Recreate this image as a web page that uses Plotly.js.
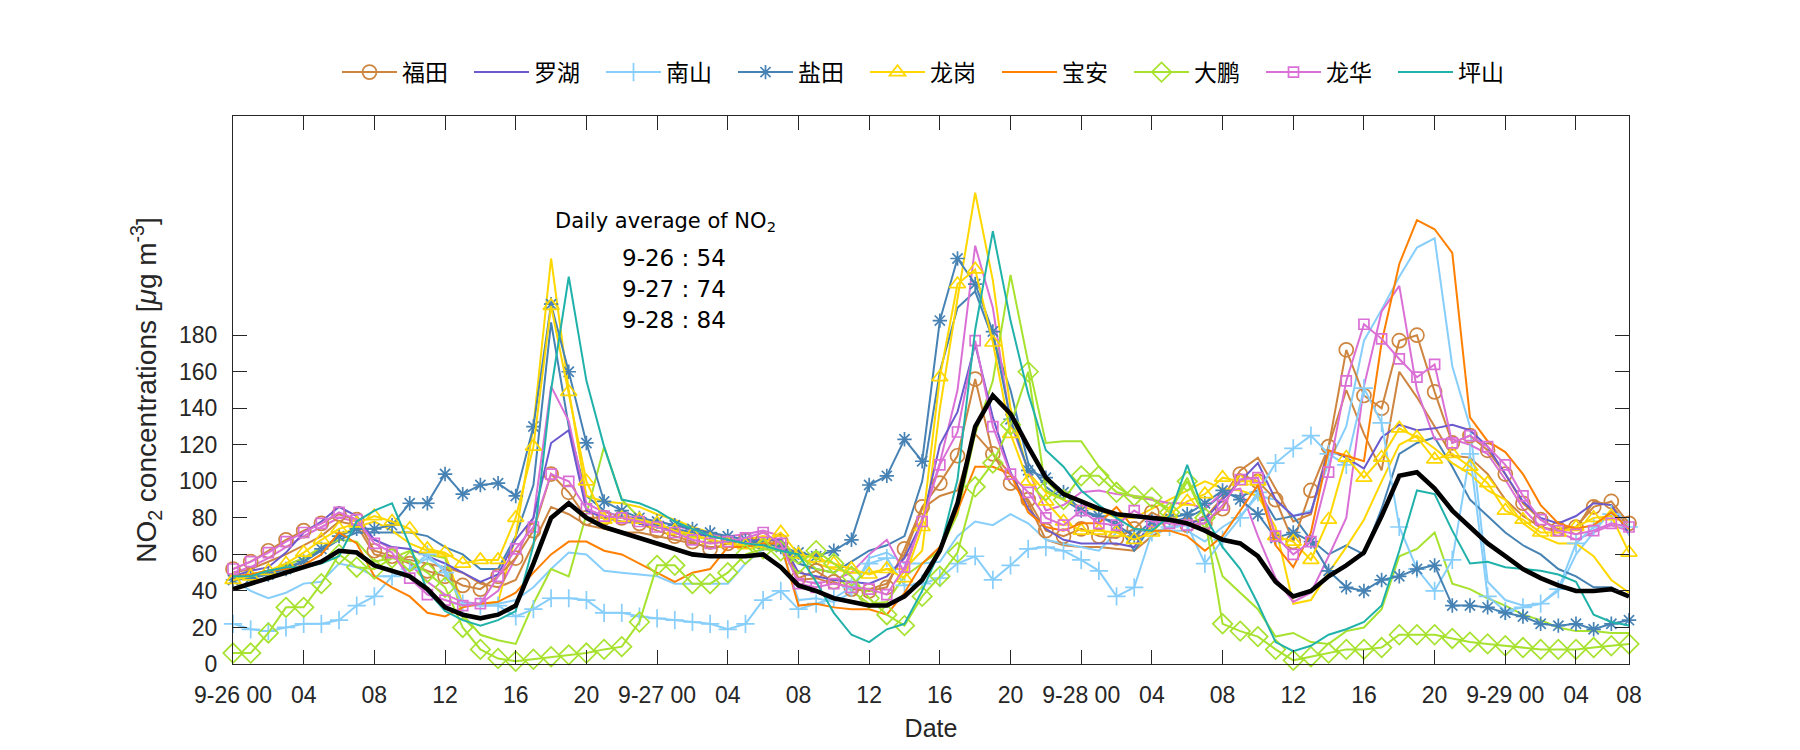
<!DOCTYPE html>
<html>
<head>
<meta charset="utf-8">
<script src="https://cdn.plot.ly/plotly-3.0.1.min.js"></script>
<style>html,body{margin:0;padding:0;background:#fff;}#chart{width:1800px;height:750px;}</style>
</head>
<body>
<div id="chart"></div>
<script>
// Hourly index from 9-26 00 (0) to 9-29 07 (79)
const hours = [];
for (let i = 0; i < 80; i++) hours.push(i);

const tickVals = [0,4,8,12,16,20,24,28,32,36,40,44,48,52,56,60,64,68,72,76,79];
const tickText = ["9-26 00","04","08","12","16","20","9-27 00","04","08","12","16","20","9-28 00","04","08","12","16","20","9-29 00","04","08"];
const yTickVals = [0,20,40,60,80,100,120,140,160,180];

const names = ["福田","罗湖","南山","盐田","龙岗","宝安","大鹏","龙华","坪山"];

// marker series (stations shown in legend)
const futian = [52,56,62,68,73,77,82,79,62,59, 55,51,48,43,41,48,58,73,104,94, 80,80,80,77,73,70,67,63,66,68, 68,67,47,51,45,41,40,42,63,86, 99,114,156,115,99,90,73,70,74,70, 69,74,83,78,76,77,85,104,100,90, 67,95,119,172,147,140,177,180,149,121, 125,117,104,88,79,74,75,86,89,77];
const luohu = [48,51,53,61,72,78,86,81,68,64, 63,59,55,50,45,49,68,80,121,128, 84,80,78,77,75,73,71,70,68,67, 68,68,50,48,46,45,44,48,58,78, 120,138,175,135,105,85,74,68,66,66, 66,64,78,79,77,79,90,100,110,90, 81,83,117,113,107,124,131,128,129,131, 128,119,104,89,80,77,81,88,87,71];
const nanshan = [22,19,18,20,22,22,24,32,37,48, 52,60,50,33,32,32,26,30,36,36, 35,28,28,26,25,24,23,22,19,22, 35,40,30,33,36,42,55,58,43,44, 47,55,59,46,54,63,64,62,57,51, 37,42,72,75,76,55,68,80,94,110, 118,125,115,109,151,132,75,52,40,57, 115,37,29,31,33,41,66,75,82,75];
const yantian = [46,47,49,52,56,63,70,74,74,76, 88,88,104,93,98,99,92,130,197,160, 121,89,84,80,78,76,74,72,70,68, 66,64,61,59,62,68,98,103,123,111, 188,222,208,182,134,106,102,94,84,81, 76,70,78,80,82,88,95,90,82,69, 72,67,51,42,40,46,48,52,54,32, 32,31,28,26,22,21,22,19,22,24];
const longgang = [46,48,51,55,61,68,74,77,81,78, 74,63,61,55,57,57,80,119,196,149, 100,79,80,79,77,73,71,68,66,65, 66,72,60,58,55,52,49,52,47,75, 157,208,216,176,126,100,89,78,73,73, 72,68,72,82,89,93,102,100,100,70, 67,57,79,113,102,113,129,124,112,115, 108,99,84,79,72,72,75,80,81,61];
const baoan = [48,49,51,52,54,60,72,66,48,42, 37,28,26,31,33,34,39,50,60,67, 67,62,60,55,50,45,50,52,64,64, 66,66,32,33,31,30,30,27,39,55, 64,84,108,108,104,83,75,73,77,77, 86,74,73,73,70,62,70,84,98,65, 53,72,117,114,111,176,219,243,238,225, 135,122,116,104,87,77,74,76,83,74];
const dapeng = [6,6,17,31,31,44,60,53,52,58, 56,50,42,20,8,3,1.5,2.6,4,5, 6,8,9.5,23,54,54,44,44,50,60, 63,62,55,62,55,48,36,27,21,37, 48,61,97,110,131,160,95,90,103,103, 94,92,91,83,100,80,22,18,15,8, 2,4,6,8,8,9,16,16,16,14, 12,11,10,9,8,8,8,9,10,11];
const longhua = [52,56,61,67,72,77,83,79,66,61, 47,38,35,32,33,48,63,75,104,100, 85,81,80,78,75,72,68,66,67,69, 72,66,44,42,44,42,41,38,53,78, 109,127,177,130,104,94,80,76,84,77, 76,84,78,77,76,77,87,101,102,70, 60,67,105,155,186,178,167,157,164,121, 125,119,109,92,79,73,71,73,77,75];
const pingshan = [48,48,51,53,53,55,59,78,84,88, 65,40,29,24,21,24,29,65,150,212, 155,119,90,88,84,78,74,70,68,66, 65,62,60,45,28,16,12,19,22,40, 62,101,183,237,188,148,117,108,95,87, 80,74,73,81,109,81,64,52,33,12, 7,10,16,19,23,32,62,95,93,73, 55,56,53,52,51,49,45,27,23,21];

// second stations (plain lines, not in legend)
const futian2 = [50,52,56,60,65,70,78,76,60,58, 57,55,53,50,44,42,46,66,86,82, 76,74,72,72,70,68,66,64,64,65, 66,65,46,47,44,42,41,44,60,85, 92,95,126,115,104,88,68,65,64,64, 63,62,70,75,77,80,91,106,113,96, 78,82,119,150,126,106,160,146,130,114, 113,104,90,81,75,73,74,89,87,75];
const nanshan2 = [46,40,36,39,44,45,55,53,48,48, 52,58,52,33,33,33,35,42,52,61, 60,51,50,49,48,44,44,44,44,55, 63,64,35,36,34,39,58,61,55,55, 56,70,78,76,82,77,68,66,64,62, 72,73,73,73,73,67,75,81,92,90, 81,84,110,130,177,194,212,228,233,163, 130,45,35,32,33,40,60,72,84,78];
const yantian2 = [46,48,50,53,56,62,68,72,72,72, 72,70,64,60,52,52,70,98,187,130, 92,84,80,78,76,74,72,70,68,67, 66,66,55,52,50,56,62,65,70,100, 160,195,204,178,150,110,97,90,84,80, 78,62,76,78,80,85,93,92,95,79, 81,68,60,65,60,85,115,121,124,108, 90,81,72,65,60,52,48,42,42,37];
const longgang2 = [47,49,51,54,58,63,70,75,78,73, 66,62,60,33,33,34,70,130,222,150, 92,89,88,86,82,79,75,72,68,68, 70,68,58,55,52,50,50,52,52,62, 140,200,258,210,140,105,94,90,86,84, 80,80,85,90,95,100,96,95,92,75, 33,35,50,64,79,100,120,125,118,110, 104,95,90,77,70,66,66,59,46,39];
const dapeng2 = [47,49,51,54,58,64,68,67,56,58, 62,60,58,27,16,13,11,33,52,48, 82,119,90,80,75,72,70,68,66,65, 63,62,60,52,50,40,33,34,48,55, 62,82,126,155,213,165,121,122,122,108, 97,91,90,85,102,80,48,39,30,15, 17,12,11,18,20,30,59,63,72,44, 41,36,32,27,24,20,18,18,17,17];
const longhua2 = [50,53,58,64,70,75,80,78,68,63, 55,45,38,34,33,40,58,80,152,133, 88,83,81,80,78,76,73,71,70,71, 73,70,46,44,46,50,60,68,50,80, 110,150,229,195,132,106,84,87,94,95, 93,92,90,88,88,85,94,96,70,47, 34,39,59,80,152,193,207,150,123,123, 120,115,101,85,75,72,68,72,76,73];

// city average (thick black)
const average = [41,44,47,50,53,56,62,61,54,51, 48,41,31,27,25,27,32,55,80,88, 80,75,72,69,66,63,60,59,59,59, 60,53,43,40,36,34,32,32,37,46, 62,88,130,147,137,119,102,93,89,85, 82,81,80,79,77,73,68,66,59,45, 37,40,48,54,61,81,103,105,96,84, 75,66,59,52,47,43,40,40,41,37];

const dailyAvgLabels = ["9-26 : 54","9-27 : 74","9-28 : 84"];

const colors = {
  futian:'#CD853F', luohu:'#6A5ACD', nanshan:'#87CEFA', yantian:'#4682B4',
  longgang:'#FFD700', baoan:'#FF8000', dapeng:'#A6E22E', longhua:'#DA70D6', pingshan:'#20B2AA'
};

function plain(y, color) {
  return {x: hours, y: y, type:'scatter', mode:'lines', showlegend:false, hoverinfo:'skip',
          line:{color:color, width:2}};
}
function series(name, y, color, symbol, size) {
  const t = {x: hours, y: y, name: name, type:'scatter', line:{color:color, width:2}, cliponaxis:false};
  if (symbol) {
    t.mode = 'lines+markers';
    t.marker = {symbol: symbol, size: size, color: color, line:{color:color, width:1.7}};
  } else {
    t.mode = 'lines';
  }
  return t;
}

const traces = [
  plain(futian2, colors.futian),
  plain(nanshan2, colors.nanshan),
  plain(yantian2, colors.yantian),
  plain(longgang2, colors.longgang),
  plain(dapeng2, colors.dapeng),
  plain(longhua2, colors.longhua),
  series(names[0], futian, colors.futian, 'circle-open', 14),
  series(names[1], luohu, colors.luohu, null),
  series(names[2], nanshan, colors.nanshan, 'cross-thin-open', 13),
  series(names[3], yantian, colors.yantian, 'asterisk-open', 12),
  series(names[4], longgang, colors.longgang, 'triangle-up-open', 14),
  series(names[5], baoan, colors.baoan, null),
  series(names[6], dapeng, colors.dapeng, 'diamond-open', 15),
  series(names[7], longhua, colors.longhua, 'square-open', 10),
  series(names[8], pingshan, colors.pingshan, null),
  {x: hours, y: average, type:'scatter', mode:'lines', showlegend:false, line:{color:'#000', width:4.6}}
];

const axisFont = {family:'Liberation Sans, Arial, sans-serif', size:23, color:'#262626'};
const xTitleFont = {family:'Liberation Sans, Arial, sans-serif', size:25, color:'#262626'};
const yTitleFont = {family:'Liberation Sans, Arial, sans-serif', size:28, color:'#262626'};
const ann1Font = {family:'DejaVu Sans, sans-serif', size:21, color:'#000'};
const annFont = {family:'DejaVu Sans, sans-serif', size:23, color:'#000'};

const annotations = [
  {xref:'paper', yref:'paper', x:0.310, y:0.807, text:'Daily average of NO<sub>2</sub>', showarrow:false, font:ann1Font, xanchor:'center', yanchor:'middle'}
];
const annY = [0.741, 0.684, 0.628];
dailyAvgLabels.forEach((t, i) => annotations.push(
  {xref:'paper', yref:'paper', x:0.316, y:annY[i], text:t, showarrow:false, font:annFont, xanchor:'center', yanchor:'middle'}
));

const layout = {
  width:1800, height:750,
  margin:{l:233, r:171, t:116, b:86},
  paper_bgcolor:'#fff', plot_bgcolor:'#fff',
  showlegend:true,
  legend:{orientation:'h', x:0.5, xanchor:'center', y:1.08, yanchor:'middle',
          font:{family:'Noto Sans CJK SC, sans-serif', size:23, color:'#000'},
          bgcolor:'rgba(0,0,0,0)', entrywidthmode:'pixels', entrywidth:62, itemwidth:55},
  xaxis:{range:[0,79], tickmode:'array', tickvals:tickVals, ticktext:tickText,
         ticks:'inside', ticklen:14, tickwidth:1, tickcolor:'#262626',
         showline:true, linecolor:'#262626', linewidth:1, mirror:'allticks',
         showgrid:false, zeroline:false, tickfont:axisFont, ticklabelstandoff:10,
         title:{text:'Date', font:xTitleFont, standoff:12}},
  yaxis:{range:[0,300], tickmode:'array', tickvals:yTickVals,
         ticks:'inside', ticklen:14, tickwidth:1, tickcolor:'#262626',
         showline:true, linecolor:'#262626', linewidth:1, mirror:'allticks',
         showgrid:false, zeroline:false, tickfont:axisFont, ticklabelstandoff:10,
         title:{text:'NO<sub>2</sub> concentrations [<i>μ</i>g m<sup>-3</sup>]', font:yTitleFont, standoff:14}},
  annotations: annotations
};

Plotly.newPlot('chart', traces, layout, {staticPlot:true, displayModeBar:false});
</script>
</body>
</html>
